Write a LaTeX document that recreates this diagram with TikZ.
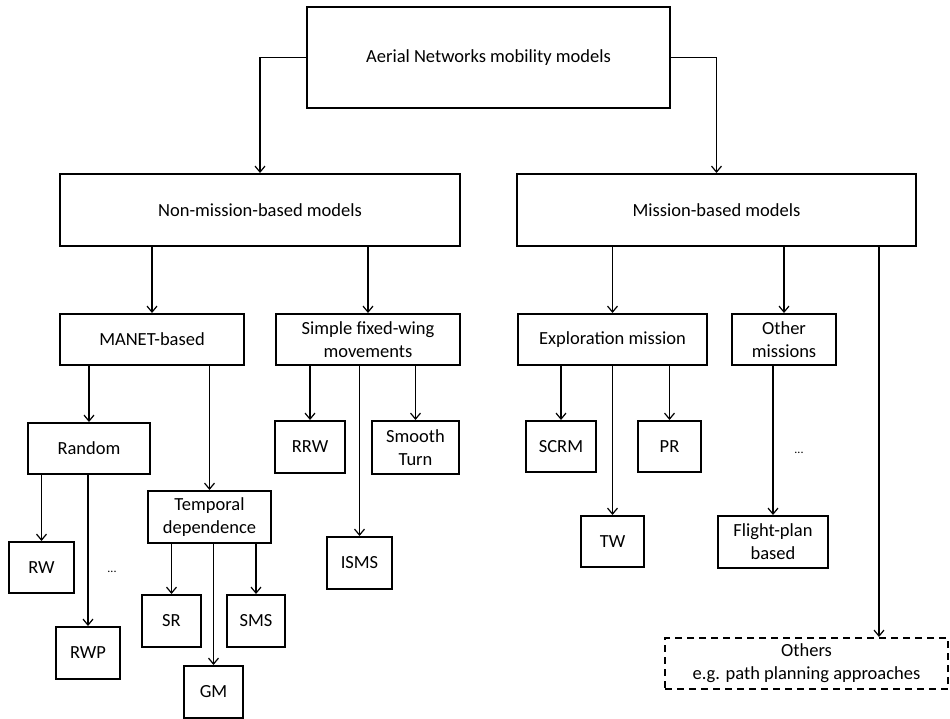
\documentclass[tikz,border=0pt]{standalone}
\usepackage{fontspec}
\setmainfont{Carlito}
\usetikzlibrary{arrows.meta}

\begin{document}
\begin{tikzpicture}[x=1pt,y=-1pt,>={Straight Barb[length=6pt,width=10pt]},
  bx/.style={draw,line width=2pt,align=center,inner sep=0pt,font=\fontsize{18.5}{23}\selectfont},
  dbx/.style={bx,dash pattern=on 7pt off 5pt},
  ar/.style={->,line width=1.2pt},
  dts/.style={font=\fontsize{12}{14}\selectfont,inner sep=0pt}]
\useasboundingbox (0,0) rectangle (950,719);
% top levels
\node[bx,minimum width=363pt,minimum height=101pt] (A) at (488.5,57.5) {Aerial Networks mobility models};
\node[bx,minimum width=400pt,minimum height=72pt] (N) at (260,210) {Non-mission-based models};
\node[bx,minimum width=399pt,minimum height=72pt] (M) at (716.5,210) {Mission-based models};
% non-mission branch
\node[bx,minimum width=184pt,minimum height=51pt] (MA) at (152,339.5) {MANET-based};
\node[bx,minimum width=184pt,minimum height=51pt] (SF) at (368,339.5) {Simple fixed-wing\\movements};
\node[bx,minimum width=122pt,minimum height=51pt] (R) at (89,448.5) {Random};
\node[bx,minimum width=123pt,minimum height=52pt] (T) at (209.5,517) {Temporal\\dependence};
\node[bx,minimum width=65pt,minimum height=51pt] (RW) at (41.5,567.5) {RW};
\node[bx,minimum width=64pt,minimum height=52pt] (RWP) at (88,653) {RWP};
\node[dts] (D1) at (112,572) {...};
\node[bx,minimum width=59pt,minimum height=52pt] (SR) at (171.5,621) {SR};
\node[bx,minimum width=58pt,minimum height=52pt] (SMS) at (256,621) {SMS};
\node[bx,minimum width=59pt,minimum height=52pt] (GM) at (213.5,692) {GM};
\node[bx,minimum width=70pt,minimum height=52pt] (RRW) at (310,447) {RRW};
\node[bx,minimum width=87pt,minimum height=53pt] (ST) at (415.5,447.5) {Smooth\\Turn};
\node[bx,minimum width=65pt,minimum height=52pt] (IS) at (359.5,563) {ISMS};
% mission branch
\node[bx,minimum width=189pt,minimum height=51pt] (E) at (612.5,339.5) {Exploration mission};
\node[bx,minimum width=104pt,minimum height=51pt] (OM) at (784,339.5) {Other\\missions};
\node[bx,minimum width=70pt,minimum height=51pt] (SC) at (561,446.5) {SCRM};
\node[bx,minimum width=63pt,minimum height=51pt] (PR) at (669.5,446.5) {PR};
\node[bx,minimum width=63pt,minimum height=51pt] (TW) at (612.5,541.5) {TW};
\node[dts] (D2) at (799,453) {...};
\node[bx,minimum width=110pt,minimum height=52pt] (FP) at (773,542) {Flight-plan\\based};
\node[dbx,minimum width=283pt,minimum height=51pt] (O) at (806.5,663.5) {Others\\e.g. path planning approaches};
% connectors
\draw[ar] (A.west) -| (N.north);
\draw[ar] (A.east) -| (M.north);
\draw[ar] (N.south -| MA.north) -- (MA.north);
\draw[ar] (N.south -| SF.north) -- (SF.north);
\draw[ar] (MA.south -| R.north) -- (R.north);
\draw[ar] (MA.south -| T.north) -- (T.north);
\draw[ar] (R.south -| RW.north) -- (RW.north);
\draw[ar] (R.south -| RWP.north) -- (RWP.north);
\draw[ar] (T.south -| SR.north) -- (SR.north);
\draw[ar] (T.south -| GM.north) -- (GM.north);
\draw[ar] (T.south -| SMS.north) -- (SMS.north);
\draw[ar] (SF.south -| RRW.north) -- (RRW.north);
\draw[ar] (SF.south -| IS.north) -- (IS.north);
\draw[ar] (SF.south -| ST.north) -- (ST.north);
\draw[ar] (M.south -| E.north) -- (E.north);
\draw[ar] (M.south -| OM.north) -- (OM.north);
\draw[ar] ([xshift=72.5pt]O.north |- M.south) -- ([xshift=72.5pt]O.north);
\draw[ar] (E.south -| SC.north) -- (SC.north);
\draw[ar] (E.south -| TW.north) -- (TW.north);
\draw[ar] (E.south -| PR.north) -- (PR.north);
\draw[ar] (OM.south -| FP.north) -- (FP.north);
\end{tikzpicture}
\end{document}
